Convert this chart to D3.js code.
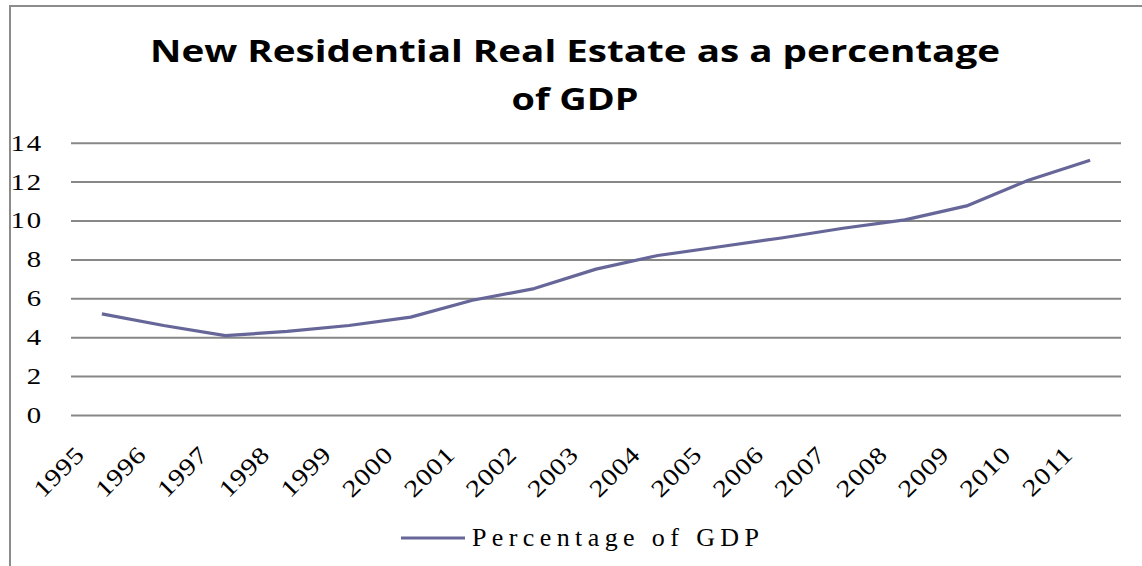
<!DOCTYPE html>
<html>
<head>
<meta charset="utf-8">
<script src="https://cdn.jsdelivr.net/npm/d3@7"></script>
<style>
html,body{margin:0;padding:0;background:#fff;}
svg{display:block;}
</style>
</head>
<body>
<svg id="chart" width="1142" height="566"></svg>
<script>
// ---- data ----
const years = ["1995","1996","1997","1998","1999","2000","2001","2002","2003","2004","2005","2006","2007","2008","2009","2010","2011"];
const percentageOfGDP = [5.2, 4.6, 4.08, 4.3, 4.6, 5.03, 5.9, 6.5, 7.5, 8.2, 8.65, 9.1, 9.6, 10.03, 10.75, 12.07, 13.1];
const yTicks = [0, 2, 4, 6, 8, 10, 12, 14];
const titleLines = ["New Residential Real Estate as a percentage", "of GDP"];
const seriesName = "Percentage of GDP";

const W = 1142, H = 566;
const svg = d3.select("#chart");
const plot = {left: 71, right: 1121, top: 142.7, bottom: 415};
const serif = "'Liberation Serif', 'DejaVu Serif', serif";

// frame
svg.append("path")
  .attr("d", `M10,${H} L10,6 L${W},6`)
  .attr("fill", "none").attr("stroke", "#8c8c8c").attr("stroke-width", 2);

// title
const titleSpecs = [{y: 62, len: 850}, {y: 110, len: 127}];
titleLines.forEach((t, i) => {
  svg.append("text")
    .attr("x", 575).attr("y", titleSpecs[i].y)
    .attr("text-anchor", "middle")
    .attr("font-family", "'Open Sans', 'Noto Sans', sans-serif")
    .attr("font-weight", "bold")
    .attr("font-size", 30)
    .attr("textLength", titleSpecs[i].len)
    .attr("lengthAdjust", "spacingAndGlyphs")
    .attr("fill", "#000")
    .text(t);
});

// scales
const x = d3.scaleBand().domain(years).range([plot.left, plot.right]).padding(0);
const y = d3.scaleLinear().domain([0, 14]).range([plot.bottom, plot.top]);

// gridlines
const yAxis = d3.axisLeft(y).tickValues(yTicks).tickSize(-(plot.right - plot.left)).tickFormat(d3.format("d"));
const gy = svg.append("g").attr("transform", `translate(${plot.left},0)`).call(yAxis);
gy.select(".domain").remove();
gy.selectAll(".tick line").attr("stroke", "#878787").attr("stroke-width", 2);
gy.selectAll(".tick text").remove();

// y labels
const yLab = svg.append("g");
yTicks.forEach(v => {
  yLab.append("text")
    .attr("transform", `translate(43,${y(v)}) scale(1.2,1)`)
    .attr("dy", "0.33em")
    .attr("text-anchor", "end")
    .attr("font-family", serif)
    .attr("font-size", 24)
    .attr("letter-spacing", 1.5)
    .attr("fill", "#000")
    .text(d3.format("d")(v));
});

// x labels
const xLab = svg.append("g");
years.forEach(yr => {
  const cx = x(yr) + x.bandwidth() / 2;
  xLab.append("text")
    .attr("transform", `translate(${cx - 16},${plot.bottom + 41}) rotate(-45) scale(1.2,1)`)
    .attr("text-anchor", "end")
    .attr("font-family", serif)
    .attr("font-size", 24)
    .attr("letter-spacing", 0.6)
    .attr("fill", "#000")
    .text(yr);
});

// line
const color = "#666699";
const line = d3.line()
  .x((d, i) => x(years[i]) + x.bandwidth() / 2)
  .y(d => y(d));
svg.append("path")
  .datum(percentageOfGDP)
  .attr("d", line)
  .attr("fill", "none")
  .attr("stroke", color)
  .attr("stroke-width", 3.2)
  .attr("stroke-linejoin", "round");

// legend
svg.append("line")
  .attr("x1", 401).attr("x2", 465).attr("y1", 538).attr("y2", 538)
  .attr("stroke", color).attr("stroke-width", 3.2);
svg.append("text")
  .attr("x", 472).attr("y", 546)
  .attr("font-family", serif)
  .attr("font-size", 26)
  .attr("textLength", 287)
  .attr("lengthAdjust", "spacing")
  .attr("fill", "#000")
  .text(seriesName);
</script>
</body>
</html>
